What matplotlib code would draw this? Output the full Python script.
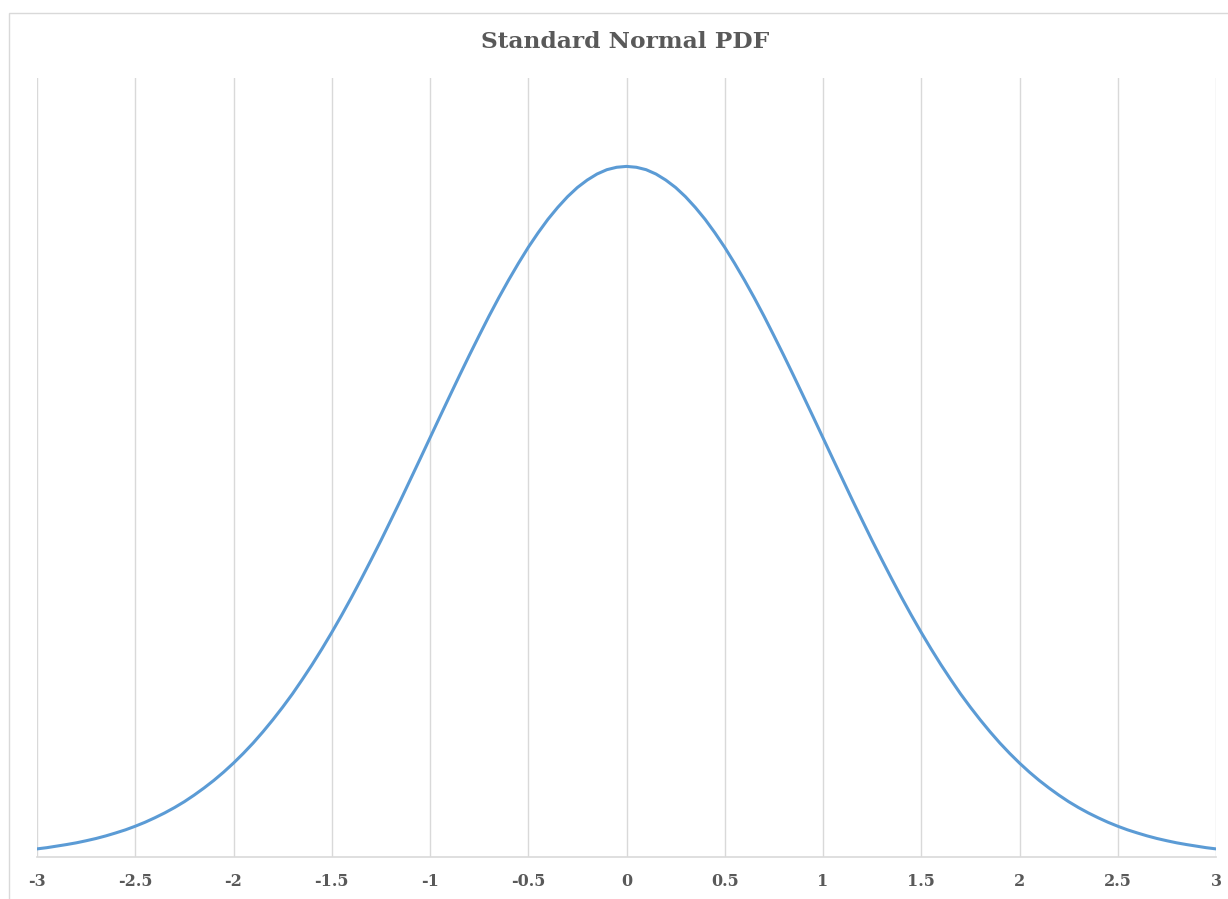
import matplotlib
matplotlib.use("Agg")
import matplotlib.pyplot as plt
from matplotlib.patches import Rectangle

# Standard normal density, tabulated at steps of 0.05 over [0, 3]
x_half = [0.00, 0.05, 0.10, 0.15, 0.20, 0.25, 0.30, 0.35, 0.40, 0.45,
          0.50, 0.55, 0.60, 0.65, 0.70, 0.75, 0.80, 0.85, 0.90, 0.95,
          1.00, 1.05, 1.10, 1.15, 1.20, 1.25, 1.30, 1.35, 1.40, 1.45,
          1.50, 1.55, 1.60, 1.65, 1.70, 1.75, 1.80, 1.85, 1.90, 1.95,
          2.00, 2.05, 2.10, 2.15, 2.20, 2.25, 2.30, 2.35, 2.40, 2.45,
          2.50, 2.55, 2.60, 2.65, 2.70, 2.75, 2.80, 2.85, 2.90, 2.95,
          3.00]
pdf_half = [0.3989, 0.3984, 0.3970, 0.3945, 0.3910, 0.3867, 0.3814, 0.3752,
            0.3683, 0.3605, 0.3521, 0.3429, 0.3332, 0.3230, 0.3123, 0.3011,
            0.2897, 0.2780, 0.2661, 0.2541, 0.2420, 0.2299, 0.2179, 0.2059,
            0.1942, 0.1826, 0.1714, 0.1604, 0.1497, 0.1394, 0.1295, 0.1200,
            0.1109, 0.1023, 0.0940, 0.0863, 0.0790, 0.0721, 0.0656, 0.0596,
            0.0540, 0.0488, 0.0440, 0.0396, 0.0355, 0.0317, 0.0283, 0.0252,
            0.0224, 0.0198, 0.0175, 0.0154, 0.0136, 0.0119, 0.0104, 0.0091,
            0.0079, 0.0069, 0.0060, 0.0051, 0.0044]

# the density is symmetric about zero
x_values = [-v for v in reversed(x_half[1:])] + x_half
pdf_values = list(reversed(pdf_half[1:])) + pdf_half

tick_positions = [-3, -2.5, -2, -1.5, -1, -0.5, 0, 0.5, 1, 1.5, 2, 2.5, 3]
tick_labels = ["-3", "-2.5", "-2", "-1.5", "-1", "-0.5", "0",
               "0.5", "1", "1.5", "2", "2.5", "3"]

W, H = 1228, 899
fig = plt.figure(figsize=(W / 100, H / 100), dpi=100)
fig.patch.set_facecolor("white")

# chart-area border
fig.patches.append(Rectangle((8.5 / W, -0.05), 1.2, 1 - 12.5 / H + 0.05,
                             transform=fig.transFigure, fill=False,
                             edgecolor="#d9d9d9", linewidth=1.0))

left, right = 37 / W, 1216 / W
bottom, top = 1 - 856.5 / H, 1 - 78 / H
ax = fig.add_axes([left, bottom, right - left, top - bottom])
ax.set_facecolor("none")

ax.plot(x_values, pdf_values, color="#5b9bd5", linewidth=2.2,
        solid_joinstyle="round", solid_capstyle="round", zorder=3)

ax.set_xlim(-3, 3)
ax.set_ylim(0, 0.45)

for xv in tick_positions:
    ax.axvline(xv, color="#d9d9d9", linewidth=1.0, zorder=1)

for side in ("left", "right", "top"):
    ax.spines[side].set_visible(False)
ax.spines["bottom"].set_color("#d9d9d9")
ax.spines["bottom"].set_linewidth(1.2)
ax.spines["bottom"].set_zorder(2)

ax.set_yticks([])
ax.set_xticks(tick_positions)
ax.set_xticklabels(tick_labels, fontfamily="DejaVu Serif", fontweight="bold",
                   fontsize=11.5, color="#595959")
ax.tick_params(axis="x", length=0, pad=12)

fig.text(625 / W, 1 - 42 / H, "Standard Normal PDF", ha="center", va="center",
         fontfamily="DejaVu Serif", fontweight="bold", fontsize=16.8,
         color="#595959")

fig.savefig("out.png", dpi=100, facecolor="white")
